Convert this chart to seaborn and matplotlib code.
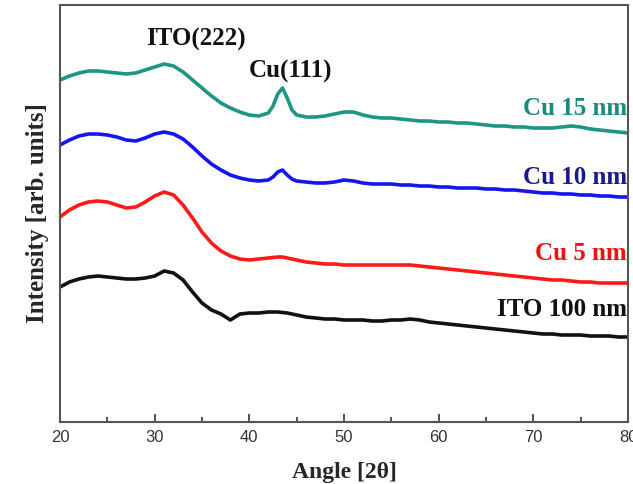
import numpy as np
import pandas as pd
import matplotlib
matplotlib.use("Agg")
import matplotlib.pyplot as plt
import seaborn as sns
from matplotlib.ticker import MultipleLocator

# ---- data (intensity in arbitrary units, stacked offsets) ----
angle = [20, 21, 22, 23, 24, 25, 26, 27, 28, 29, 30, 31, 32, 33, 34, 35, 36, 37, 38, 39,
         40, 41, 42, 42.5, 43, 43.5, 44, 44.5, 45, 46, 47, 48, 49, 50, 51, 52, 53, 54, 55,
         56, 57, 58, 59, 60, 61, 62, 63, 64, 65, 66, 67, 68, 69, 70, 71, 72, 73, 74, 75,
         76, 77, 78, 79, 80]

cu15_px = [80, 76, 73, 71, 71, 72, 73, 74, 73, 70, 67, 64, 66, 72, 80, 88, 96, 103, 108, 112,
           115, 116, 113, 106, 94, 88, 98, 110, 115, 117, 117, 116, 114, 112, 112, 115, 117, 118, 118,
           119, 120, 121, 121, 122, 122, 123, 123, 124, 125, 126, 126, 127, 127, 128, 128, 128, 127, 126, 127,
           129, 130, 131, 132, 133]
cu10_px = [145, 140, 136, 134, 134, 135, 137, 140, 141, 138, 134, 132, 134, 139, 147, 156, 164, 170, 175, 178,
           180, 181, 180, 177, 172, 170, 175, 179, 181, 182, 183, 183, 182, 180, 181, 183, 184, 184, 184,
           185, 185, 186, 186, 187, 187, 188, 188, 188, 189, 189, 190, 190, 191, 192, 193, 193, 194, 194, 195,
           195, 196, 196, 197, 197]
cu5_px = [217, 210, 205, 202, 201, 202, 205, 208, 207, 202, 196, 192, 195, 205, 218, 232, 243, 251, 256, 259,
          260, 259, 258, 257.5, 257, 257, 258, 259, 260, 262, 263, 264, 264, 265, 265, 265, 265, 265, 265,
          265, 265, 266, 267, 268, 269, 270, 271, 272, 273, 274, 275, 276, 277, 278, 279, 280, 280, 281, 282,
          282, 283, 283, 283, 283]
ito_px = [287, 282, 279, 277, 276, 277, 278, 279, 279, 278, 276, 271, 273, 280, 292, 303, 310, 314, 320, 314,
          313, 313, 312, 312, 312, 312.5, 313, 314, 315, 317, 318, 319, 319, 320, 320, 320, 321, 321, 320,
          320, 319, 320, 322, 323, 324, 325, 326, 327, 328, 329, 330, 331, 332, 333, 334, 334, 335, 335, 335,
          336, 336, 336, 337, 337]

series_names = ["Cu 15 nm", "Cu 10 nm", "Cu 5 nm", "ITO 100 nm"]
series_px = [cu15_px, cu10_px, cu5_px, ito_px]
line_colors = ["#1f9585", "#1515ee", "#ff1a1a", "#111111"]
label_colors = ["#1a8a7a", "#1a1a8c", "#ee1111", "#111111"]
label_y = [314, 245, 169, 112]          # label centre heights (same units as data)
xticks = [20, 30, 40, 50, 60, 70, 80]
peak_labels = ["ITO(222)", "Cu(111)"]
peak_pos = [(34.4, 383), (44.4, 351)]

BASE = 422  # baseline used to convert the read values to intensity
frames = []
for name, px in zip(series_names, series_px):
    frames.append(pd.DataFrame({"angle": angle,
                                "intensity": [BASE - v for v in px],
                                "sample": name}))
df = pd.concat(frames, ignore_index=True)

sns.set_style("ticks")
plt.rcParams["font.family"] = ["Liberation Serif", "DejaVu Serif"]

fig = plt.figure(figsize=(6.33, 4.84), dpi=100)
ax = fig.add_axes([60 / 633, 1 - 422 / 484, 568 / 633, 417 / 484])

sns.lineplot(data=df, x="angle", y="intensity", hue="sample",
             hue_order=series_names, palette=line_colors,
             linewidth=2.6, legend=False, ax=ax)

ax.set_xlim(20, 80)
ax.set_ylim(0, 417)
ax.set_yticks([])
ax.set_xticks(xticks)
ax.xaxis.set_minor_locator(MultipleLocator(5))
ax.tick_params(axis="x", which="major", direction="in", length=6, width=1.3,
               colors="#444444", labelsize=12, labelcolor="#333333", pad=6,
               top=False)
ax.tick_params(axis="x", which="minor", direction="in", length=3.5, width=1.3,
               colors="#444444", top=False)
for lab in ax.get_xticklabels():
    lab.set_fontfamily(["Liberation Sans", "DejaVu Sans"])

for sp in ax.spines.values():
    sp.set_visible(True)
    sp.set_color("#555555")
    sp.set_linewidth(1.5)

ax.set_xlabel("Angle [2θ]", fontsize=17, fontweight="bold", labelpad=12)
ax.set_ylabel("Intensity [arb. units]", fontsize=18, fontweight="bold", labelpad=8)

for name, col, yy in zip(series_names, label_colors, label_y):
    ax.text(79.9, yy, name, ha="right", va="center", fontsize=18,
            fontweight="bold", color=col)

for txt, (xx, yy) in zip(peak_labels, peak_pos):
    ax.text(xx, yy, txt, ha="center", va="center", fontsize=18,
            fontweight="bold", color="#111111")

fig.savefig("out.png", dpi=100)
